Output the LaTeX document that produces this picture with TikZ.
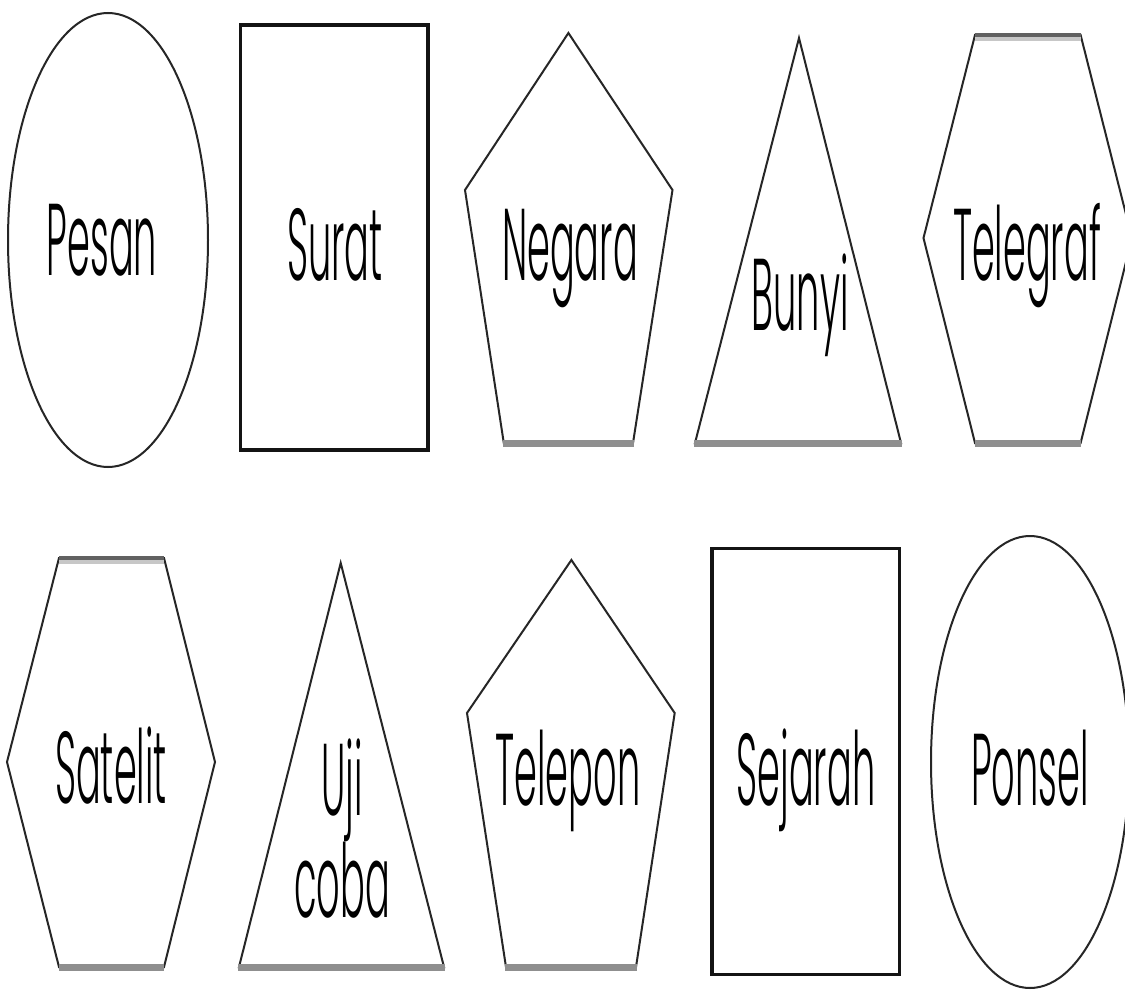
\documentclass[tikz,border=0pt]{standalone}
\usepackage{fontspec}
\IfFontExistsTF{Poppins Light}
  {\newfontfamily\labfont[FakeStretch=0.36]{Poppins Light}}
  {\newfontfamily\labfont[FakeStretch=0.36]{Poppins}}
\begin{document}
\begin{tikzpicture}[x=1pt,y=-1pt,
  outline/.style={draw=black!85, line width=2pt, line join=miter},
  boxline/.style={draw=black!92, line width=3.8pt},
  basebar/.style={draw=black!44, line width=7pt},
  topdark/.style={draw=black!62, line width=4pt},
  toplight/.style={draw=black!22, line width=4pt},
  lab/.style={font=\labfont\fontsize{102}{102}\selectfont, anchor=base, inner sep=0pt}]
\useasboundingbox[fill=white] (0,0) rectangle (1125,990);
% row 1
\draw[outline] (108,240) ellipse [x radius=100, y radius=227];
\draw[boxline] (240.5,25) rectangle (428,450);
\draw[outline] (568.4,33) -- (465,190) -- (503.8,443) -- (633,443) -- (672.5,190) -- cycle;
\draw[basebar] (503,443) -- (634,443);
\draw[outline] (799,38) -- (695,443) -- (901,443) -- cycle;
\draw[basebar] (694,443) -- (902,443);
\draw[outline] (975,35) -- (923.5,238) -- (975,443) -- (1080.6,443) -- (1132,238) -- (1080.6,35) -- cycle;
\draw[toplight] (975,39) -- (1080.6,39);
\draw[topdark] (975,35) -- (1080.6,35);
\draw[basebar] (975,443) -- (1080.6,443);
% row 2
\draw[outline] (59,558) -- (7,762) -- (59,967) -- (164,967) -- (215,762) -- (164,558) -- cycle;
\draw[toplight] (59,562) -- (164,562);
\draw[topdark] (59,558) -- (164,558);
\draw[basebar] (59,967) -- (164,967);
\draw[outline] (340.7,563) -- (239,967) -- (444,967) -- cycle;
\draw[basebar] (238,967) -- (445,967);
\draw[outline] (571.4,560) -- (467,713) -- (506,967) -- (636,967) -- (674.7,713) -- cycle;
\draw[basebar] (505,967) -- (637,967);
\draw[boxline] (712,548.5) rectangle (899.5,974.5);
\draw[outline] (1030,762) ellipse [x radius=99, y radius=226];
% labels
\node[lab] (pesan) at (102,275) {Pesan};
\node[lab] (surat) at (335,280) {Surat};
\node[lab] (negara) at (570,280) {Negara};
\node[lab] (bunyi) at (800,330) {Bunyi};
\node[lab] (telegraf) at (1027,280) {Telegraf};
\node[lab] (satelit) at (111,803) {Satelit};
\node[lab] (uji) at (342,815) {Uji};
\node[lab] (coba) at (342,917) {coba};
\node[lab] (telepon) at (568,805) {Telepon};
\node[lab] (sejarah) at (806,805) {Sejarah};
\node[lab] (ponsel) at (1030,805) {Ponsel};
\end{tikzpicture}
\end{document}
